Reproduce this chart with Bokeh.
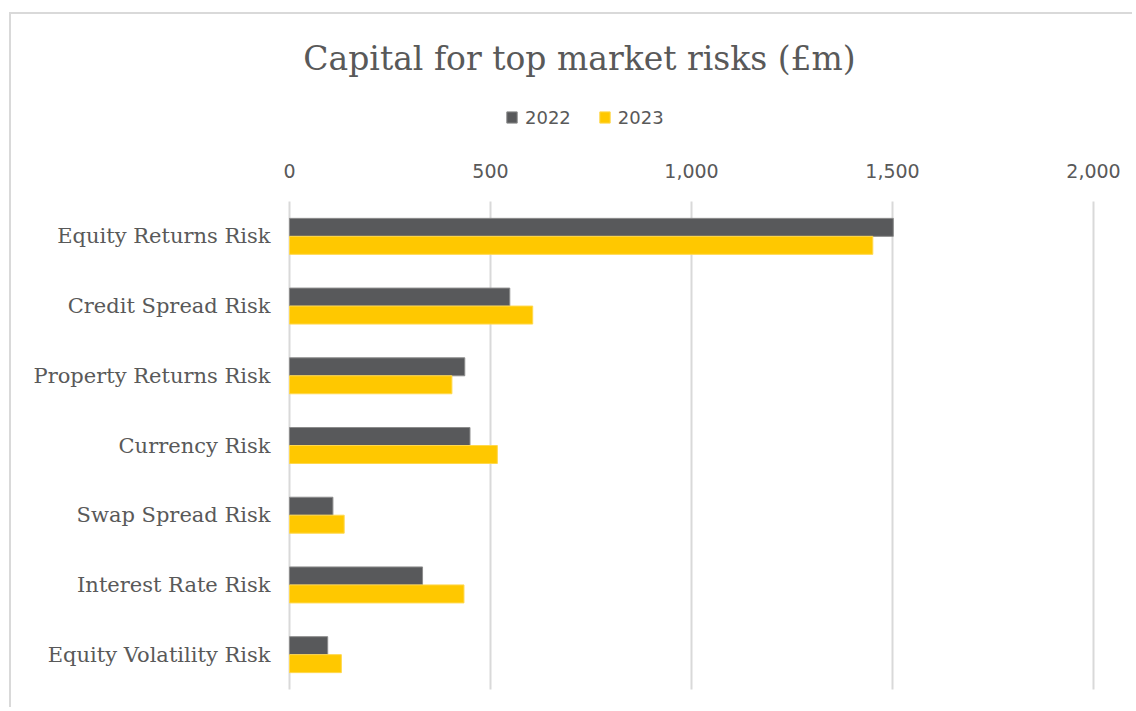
from bokeh.plotting import figure
from bokeh.models import Range1d, FixedTicker, Legend, LegendItem, NumeralTickFormatter, Label
from bokeh.embed import file_html
from bokeh.resources import INLINE

# ---- data ----
categories = ["Equity Returns Risk", "Credit Spread Risk", "Property Returns Risk",
              "Currency Risk", "Swap Spread Risk", "Interest Rate Risk",
              "Equity Volatility Risk"]
values_2022 = [1502, 548, 436, 449, 108, 331, 95]
values_2023 = [1451, 605, 404, 517, 136, 434, 129]
series_names = ["2022", "2023"]
x_ticks = [0, 500, 1000, 1500, 2000]
title_text = "Capital for top market risks (£m)"

# ---- style / layout ----
C22 = "#58595B"
C23 = "#FFC800"
TXT = "#595959"
GRID = "#D9D9D9"
SERIF = "DejaVu Serif"
SANS = "DejaVu Sans"

W, H = 1123, 695
n = len(categories)
ZERO_PX = 278            # canvas x of value 0
SPAN_PX = 804            # px from 0 to 2000
BARS_TOP = 187           # canvas y of top of bar area
BARS_H = 488             # height of bar area
PXX = SPAN_PX / 2000.0
PXU = BARS_H / n
X0 = -ZERO_PX / PXX
X1 = X0 + W / PXX
Y_TOP = n + BARS_TOP / PXU
Y0 = -(H - BARS_TOP - BARS_H) / PXU

p = figure(width=W, height=H, output_backend="svg", toolbar_location=None,
           x_range=Range1d(X0, X1), y_range=Range1d(Y0, Y_TOP),
           x_axis_location="above",
           min_border_left=0, min_border_top=0,
           min_border_right=0, min_border_bottom=0)
p.margin = (12, 0, 0, 9)
p.outline_line_color = None
p.background_fill_color = "white"
p.border_fill_color = "white"
p.styles = {"border-left": "2px solid #D9D9D9", "border-top": "2px solid #D9D9D9"}

# vertical grid lines at the axis ticks, limited to the bar area
p.segment(x0=x_ticks, y0=[0] * len(x_ticks), x1=x_ticks, y1=[n] * len(x_ticks),
          line_color=GRID, line_width=2, level="underlay")

ys = [n - 0.5 - i for i in range(n)]
off = 0.129
bh = 0.258
r1 = p.hbar(y=[y + off for y in ys], left=0, right=values_2022, height=bh,
            fill_color=C22, line_color="#8C8C8C", line_width=1)
r2 = p.hbar(y=[y - off for y in ys], left=0, right=values_2023, height=bh,
            fill_color=C23, line_color="#FFD84D", line_width=1)

# x axis (drawn at the top of the bar area)
xa = p.xaxis[0]
xa.fixed_location = n
xa.ticker = FixedTicker(ticks=x_ticks)
xa.formatter = NumeralTickFormatter(format="0,0")
xa.axis_line_color = None
xa.major_tick_line_color = None
xa.minor_tick_line_color = None
xa.major_tick_out = 0
xa.major_label_standoff = 24
xa.major_label_text_font = SANS
xa.major_label_text_font_size = "19px"
xa.major_label_text_color = TXT

# y axis (categories), drawn at value 0
ya = p.yaxis[0]
ya.fixed_location = 0
ya.ticker = FixedTicker(ticks=ys)
ya.major_label_overrides = {y: c for y, c in zip(ys, categories)}
ya.axis_line_color = None
ya.major_tick_line_color = None
ya.minor_tick_line_color = None
ya.major_tick_out = 0
ya.major_label_standoff = 19
ya.major_label_text_font = SERIF
ya.major_label_text_font_size = "21px"
ya.major_label_text_color = TXT

p.xgrid.visible = False
p.ygrid.visible = False


def xd(px):
    return X0 + px / PXX


def yd(py):
    return Y_TOP - py / PXU


p.add_layout(Label(x=xd(568), y=yd(44), text=title_text, text_align="center",
                   text_baseline="middle", text_font=SERIF, text_font_size="33px",
                   text_color=TXT))

legend = Legend(items=[LegendItem(label=series_names[0], renderers=[r1]),
                       LegendItem(label=series_names[1], renderers=[r2])],
                location=(494, H - 113.5), orientation="horizontal",
                glyph_width=13, glyph_height=14, label_standoff=7, spacing=27,
                padding=0, margin=0, border_line_color=None,
                background_fill_alpha=0, label_text_font=SANS,
                label_text_font_size="18px", label_text_color=TXT,
                label_height=20)
p.add_layout(legend, "center")

open("out.html", "w").write(file_html(p, INLINE))
